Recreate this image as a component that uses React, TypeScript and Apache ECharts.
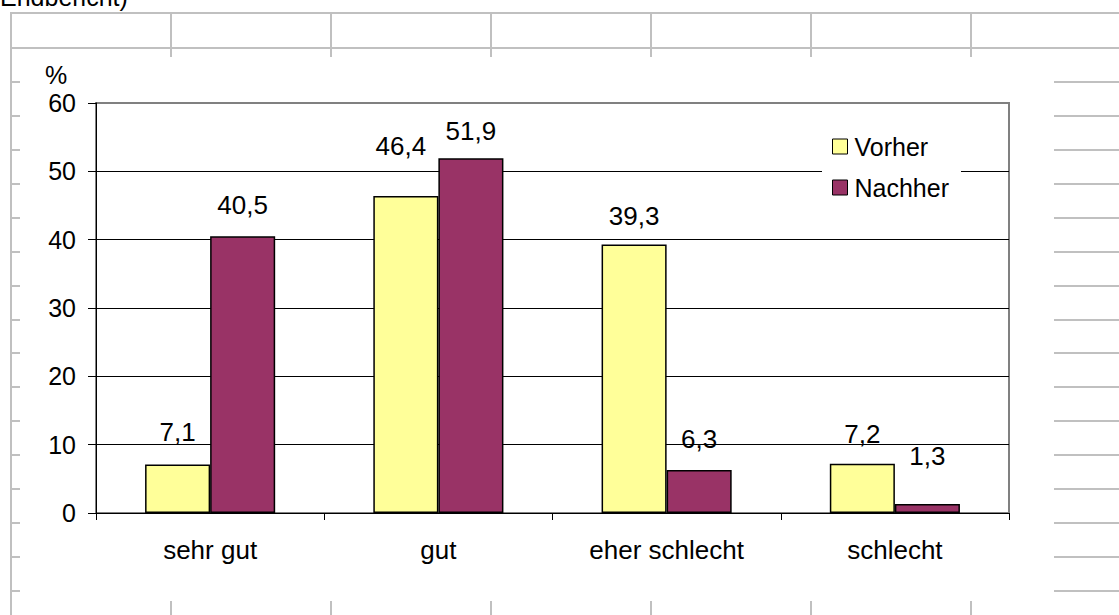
import React, { useEffect, useRef } from "react";
import * as echarts from "echarts";

const categories = ["sehr gut", "gut", "eher schlecht", "schlecht"];
const vorher = [7.1, 46.4, 39.3, 7.2];
const nachher = [40.5, 51.9, 6.3, 1.3];
const seriesNames = ["Vorher", "Nachher"];
const yTicks = { min: 0, max: 60, interval: 10 };

const FONT = "'Liberation Sans', Arial, sans-serif";
const SHEET = "#c0c0c0";

// label offsets above the bars (px), as placed in the original chart
const vorherLabelGap = [19, 37, 15, 17];
const nachherLabelGap = [18, 14, 18, 35];
const vorherLabelShiftX = [0, -5, 0, 0];
const nachherLabelShiftX = [0, 0, 0, 0];

function sheetGraphics() {
  const els: any[] = [];
  const line = (x1: number, y1: number, x2: number, y2: number) =>
    els.push({
      type: "line",
      z: -10,
      silent: true,
      shape: { x1, y1, x2, y2 },
      style: { stroke: SHEET, lineWidth: 2 },
    });
  line(10, 13, 1119, 13);
  line(10, 48, 1119, 48);
  line(11, 13, 11, 615);
  [171, 331, 491, 651, 811, 971].forEach((x) => {
    line(x, 13, x, 57);
    line(x, 601, x, 615);
  });
  for (let k = 1; k <= 16; k++) {
    const y = Math.round(48 + k * 33.94);
    line(11, y, 20, y);
    line(1054, y, 1119, y);
  }
  els.push({
    type: "text",
    x: 0,
    y: -3,
    silent: true,
    style: {
      text: "Endbericht)",
      font: `25px ${FONT}`,
      fill: "#000",
      verticalAlign: "middle",
      align: "left",
    },
  });
  els.push({
    type: "text",
    x: 45,
    y: 75,
    silent: true,
    style: {
      text: "%",
      font: `25px ${FONT}`,
      fill: "#000",
      verticalAlign: "middle",
      align: "left",
    },
  });
  return els;
}

const fmt = (p: any) => String(p.value).replace(".", ",");

export default function App() {
  const ref = useRef<HTMLDivElement>(null);
  useEffect(() => {
    if (!ref.current) return;
    const chart = echarts.init(ref.current, undefined, { renderer: "svg" });
    const barLabel = {
      show: true,
      position: "top",
      distance: 18,
      formatter: fmt,
      color: "#000",
      fontSize: 26,
      fontFamily: FONT,
    };
    const withGaps = (vals: number[], gaps: number[], shifts: number[]) =>
      vals.map((v, i) => ({
        value: v,
        label: { distance: gaps[i], offset: [shifts[i], 0] },
      }));
    chart.setOption({
      animation: false,
      backgroundColor: "#fff",
      textStyle: { fontFamily: FONT },
      graphic: sheetGraphics(),
      grid: {
        left: 96,
        right: 110,
        top: 103,
        bottom: 102,
        show: true,
        borderColor: "#808080",
        borderWidth: 2,
        backgroundColor: "transparent",
      },
      legend: {
        orient: "vertical",
        left: 822,
        top: 124,
        padding: [10, 12, 10, 10],
        backgroundColor: "#fff",
        itemWidth: 15,
        itemHeight: 15,
        itemGap: 16,
        icon: "rect",
        itemStyle: { borderColor: "#000", borderWidth: 1 },
        textStyle: { fontSize: 25, color: "#000", fontFamily: FONT, padding: [0, 0, 0, 2] },
        data: seriesNames,
      },
      xAxis: {
        type: "category",
        data: categories,
        axisLine: { lineStyle: { color: "#000", width: 1 } },
        axisTick: { show: true, interval: 0, length: 7, lineStyle: { color: "#000" } },
        axisLabel: { color: "#000", fontSize: 26, margin: 24, interval: 0, fontFamily: FONT },
        splitLine: { show: false },
      },
      yAxis: {
        type: "value",
        min: yTicks.min,
        max: yTicks.max,
        interval: yTicks.interval,
        axisLine: { show: true, lineStyle: { color: "#000", width: 1 } },
        axisTick: { show: true, length: 8, lineStyle: { color: "#000" } },
        axisLabel: { color: "#000", fontSize: 25, margin: 20, fontFamily: FONT },
        splitLine: {
          show: true,
          lineStyle: {
            color: ["#000", "#000", "#000", "#000", "#000", "#000", "#808080"],
            width: 1,
          },
        },
      },
      series: [
        {
          name: seriesNames[0],
          type: "bar",
          data: withGaps(vorher, vorherLabelGap, vorherLabelShiftX),
          barGap: "0%",
          barCategoryGap: "43%",
          itemStyle: { color: "#FFFF99", borderColor: "#000", borderWidth: 1.5 },
          label: barLabel,
        },
        {
          name: seriesNames[1],
          type: "bar",
          data: withGaps(nachher, nachherLabelGap, nachherLabelShiftX),
          barGap: "0%",
          barCategoryGap: "43%",
          itemStyle: { color: "#993366", borderColor: "#000", borderWidth: 1.5 },
          label: barLabel,
        },
      ],
    });
    return () => chart.dispose();
  }, []);
  return (
    <div
      ref={ref}
      style={{ position: "absolute", left: 0, top: 0, width: 1119, height: 615 }}
    />
  );
}
